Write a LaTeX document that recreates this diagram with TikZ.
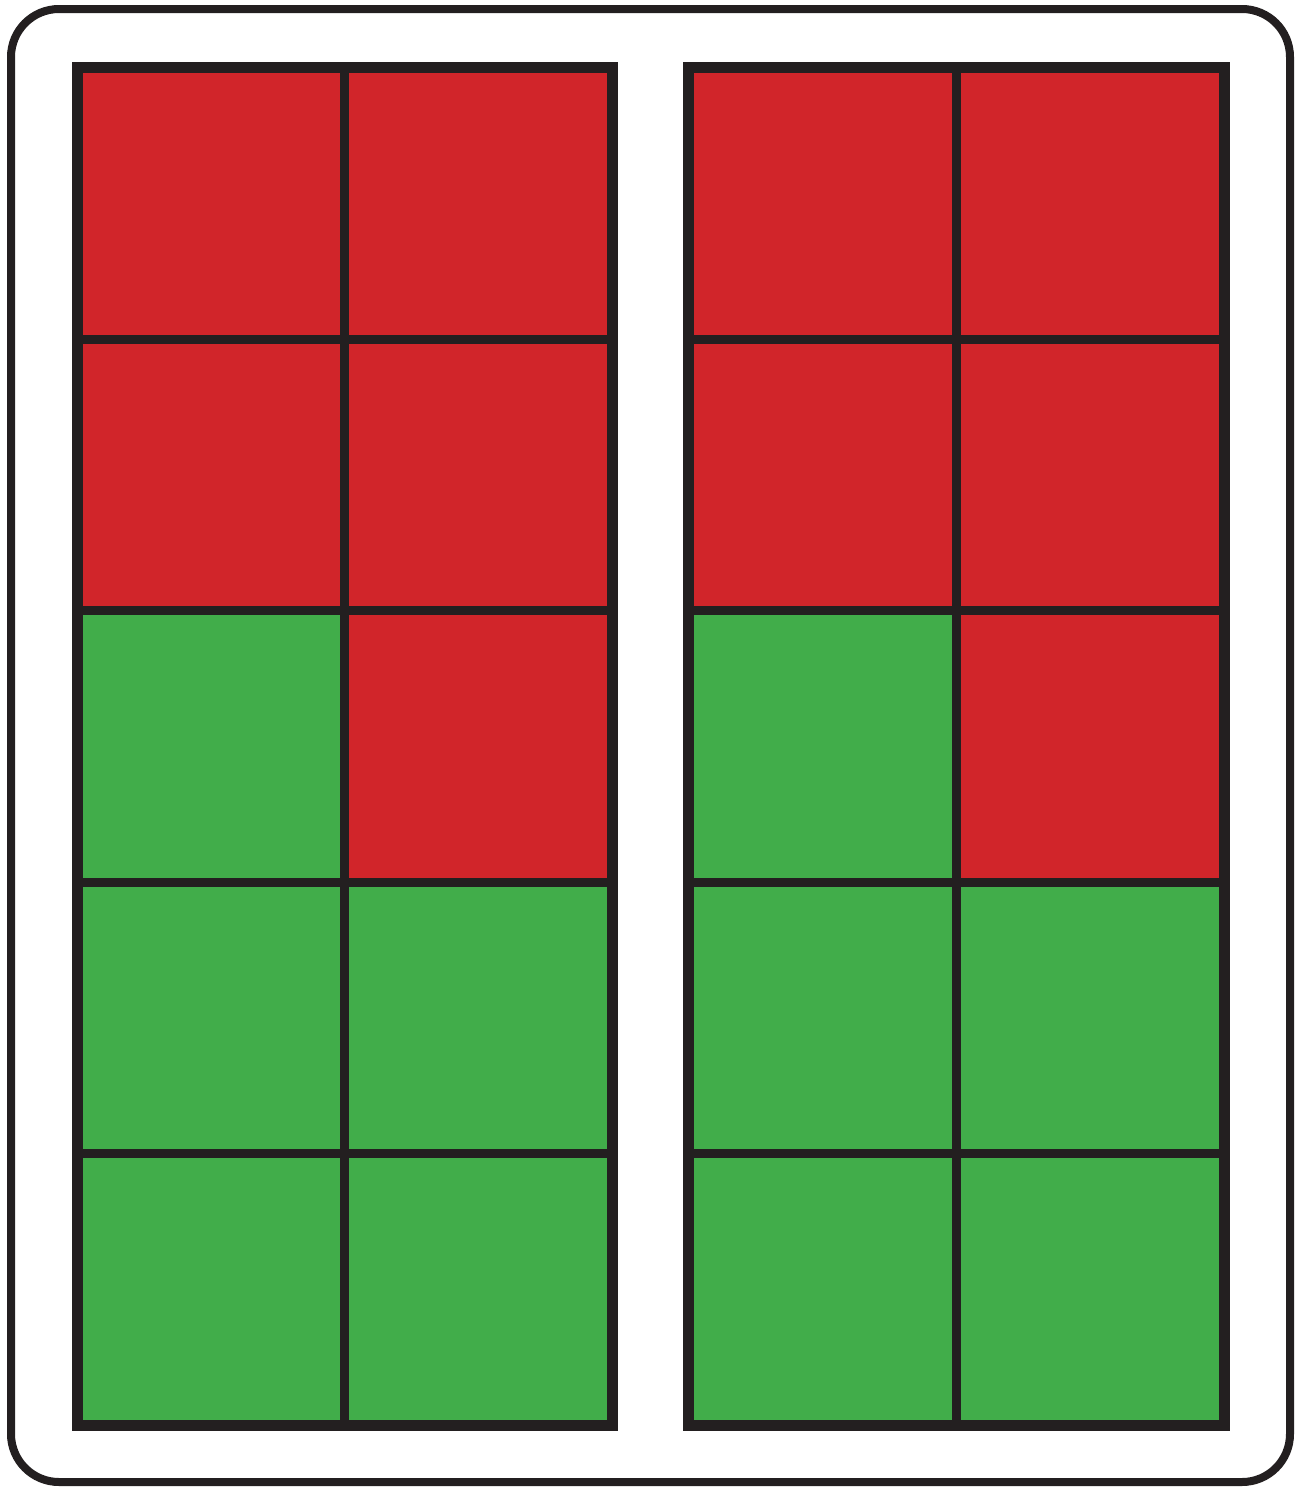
\documentclass[tikz,border=0pt]{standalone}
\definecolor{cred}{HTML}{D1252A}
\definecolor{cgreen}{HTML}{41AD4A}
\definecolor{cdark}{HTML}{231F20}
\tikzset{
  frame/.style={draw=cdark, line width=4pt, rounded corners=24pt},
  border/.style={draw=cdark, line width=5.5pt},
  inner/.style={draw=cdark, line width=4.5pt},
}
\begin{document}
\begin{tikzpicture}[x=0.5pt,y=-0.5pt]
\useasboundingbox (0,0) rectangle (1305,1489);
\draw[frame] (11,9) rectangle (1290,1482);
\foreach \x/\cx in {77/344.75, 688/956} {
  \pgfmathsetmacro{\xr}{\x+2*(\cx-\x)}
  % fills: rows 0..4, height 271.5
  \fill[cred] (\x,67.5) rectangle (\xr,610.5);
  \fill[cred] (\cx,610.5) rectangle (\xr,882);
  \fill[cgreen] (\x,610.5) rectangle (\cx,882);
  \fill[cgreen] (\x,882) rectangle (\xr,1425);
  \foreach \y in {339,610.5,882,1153.5} {
    \draw[inner] (\x,\y) -- (\xr,\y);
  }
  \draw[inner] (\cx,67.5) -- (\cx,1425);
  \draw[border] (\x,67.5) rectangle (\xr,1425);
}
\end{tikzpicture}
\end{document}
